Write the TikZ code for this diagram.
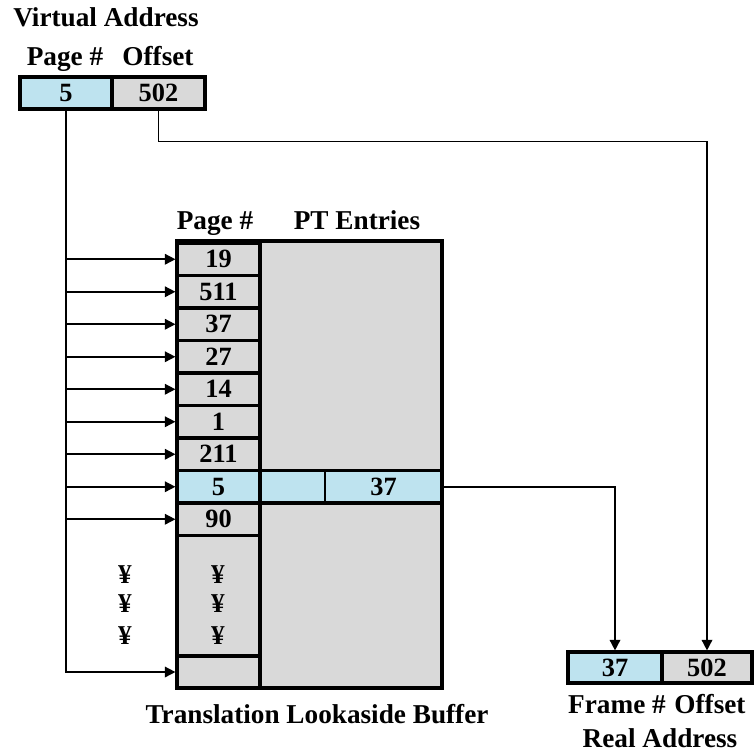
\documentclass[tikz,border=0pt]{standalone}
\usepackage{fontspec}
\setmainfont{Liberation Serif}
\usetikzlibrary{arrows.meta, positioning, calc}
\definecolor{tlbblue}{HTML}{BEE3EF}
\definecolor{tlbgrey}{HTML}{D9D9D9}

\begin{document}
\begin{tikzpicture}[x=0.02cm, y=-0.02cm, font=\fontsize{15.5}{17}\selectfont\bfseries,
    lbl/.style={anchor=base},
    cell/.style={draw, line width=1.8pt, inner sep=0pt, fill=tlbgrey,
                 minimum height=0.65cm, font=\fontsize{15}{16}\selectfont\bfseries},
    hit/.style={cell, fill=tlbblue},
    link/.style={line width=0.9pt, -{Triangle[length=6pt, width=6pt]}}]
  \useasboundingbox (0,0) rectangle (756,755);
  % virtual address
  \node[hit, minimum width=1.84cm, minimum height=0.64cm] (vp) at (66,93) {5};
  \node[cell, minimum width=1.86cm, minimum height=0.64cm] (vo) at (158.5,93) {502};
  \node[lbl] (vname) at (106,26) {Virtual Address};
  \node[lbl] (vphead) at (65,65) {Page \#};
  \node[lbl] (vohead) at (158,65) {Offset};
  % TLB
  \fill[tlbgrey] (177,241) rectangle (442,688);
  \foreach \v/\s [count=\i] in {19/cell, 511/cell, 37/cell, 27/cell, 14/cell, 1/cell, 211/cell, 5/hit, 90/cell}
    \node[\s, minimum width=1.66cm] (r\i) at (218.5,{243+32.5*(\i-0.5)}) {\v};
  \node[cell, minimum width=1.66cm, minimum height=2.41cm] (r10) at (218.5,595.75) {};
  \node[cell, minimum width=1.66cm, minimum height=0.64cm] (r11) at (218.5,672) {};
  \node[hit, minimum width=1.3cm, line width=0.9pt] (pte1) at (292.5,487) {};
  \node[hit, minimum width=2.34cm, line width=0.9pt] (pte2) at (383.5,487) {37};
  \draw[line width=1.8pt] (260,470.5) -- (442,470.5) (260,503) -- (442,503);
  \draw[line width=1.8pt] (177,241) rectangle (442,688) (260,241) -- (260,688);
  \foreach \y in {575,604,636} {
    \node (dl\y) at (125,\y) {¥};
    \node (dr\y) at (218,\y) {¥};}
  \node[lbl] (pghead) at (215,229) {Page \#};
  \node[lbl] (pthead) at (357,229) {PT Entries};
  \node[lbl] (tlbname) at (317,723) {Translation Lookaside Buffer};
  % real address
  \node[hit, minimum width=1.88cm, minimum height=0.62cm] (rf) at (615,667.5) {37};
  \node[cell, minimum width=1.8cm, minimum height=0.62cm] (ro) at (707,667.5) {502};
  \node[lbl] (rfhead) at (617,713) {Frame \#};
  \node[lbl] (rohead) at (710,713) {Offset};
  \node[lbl] (rname) at (660,747) {Real Address};
  % connectors
  \draw[link] (vp.south) |- (r11.west);
  \foreach \i in {1,...,9}
    \draw[link] (vp.south |- r\i.west) -- (r\i.west);
  \path (vo.south) ++(0,31) coordinate (obend);
  \draw[link] (vo.south) -- (obend) -| (ro.north);
  \draw[link] (pte2.east) -| (rf.north);
\end{tikzpicture}
\end{document}
